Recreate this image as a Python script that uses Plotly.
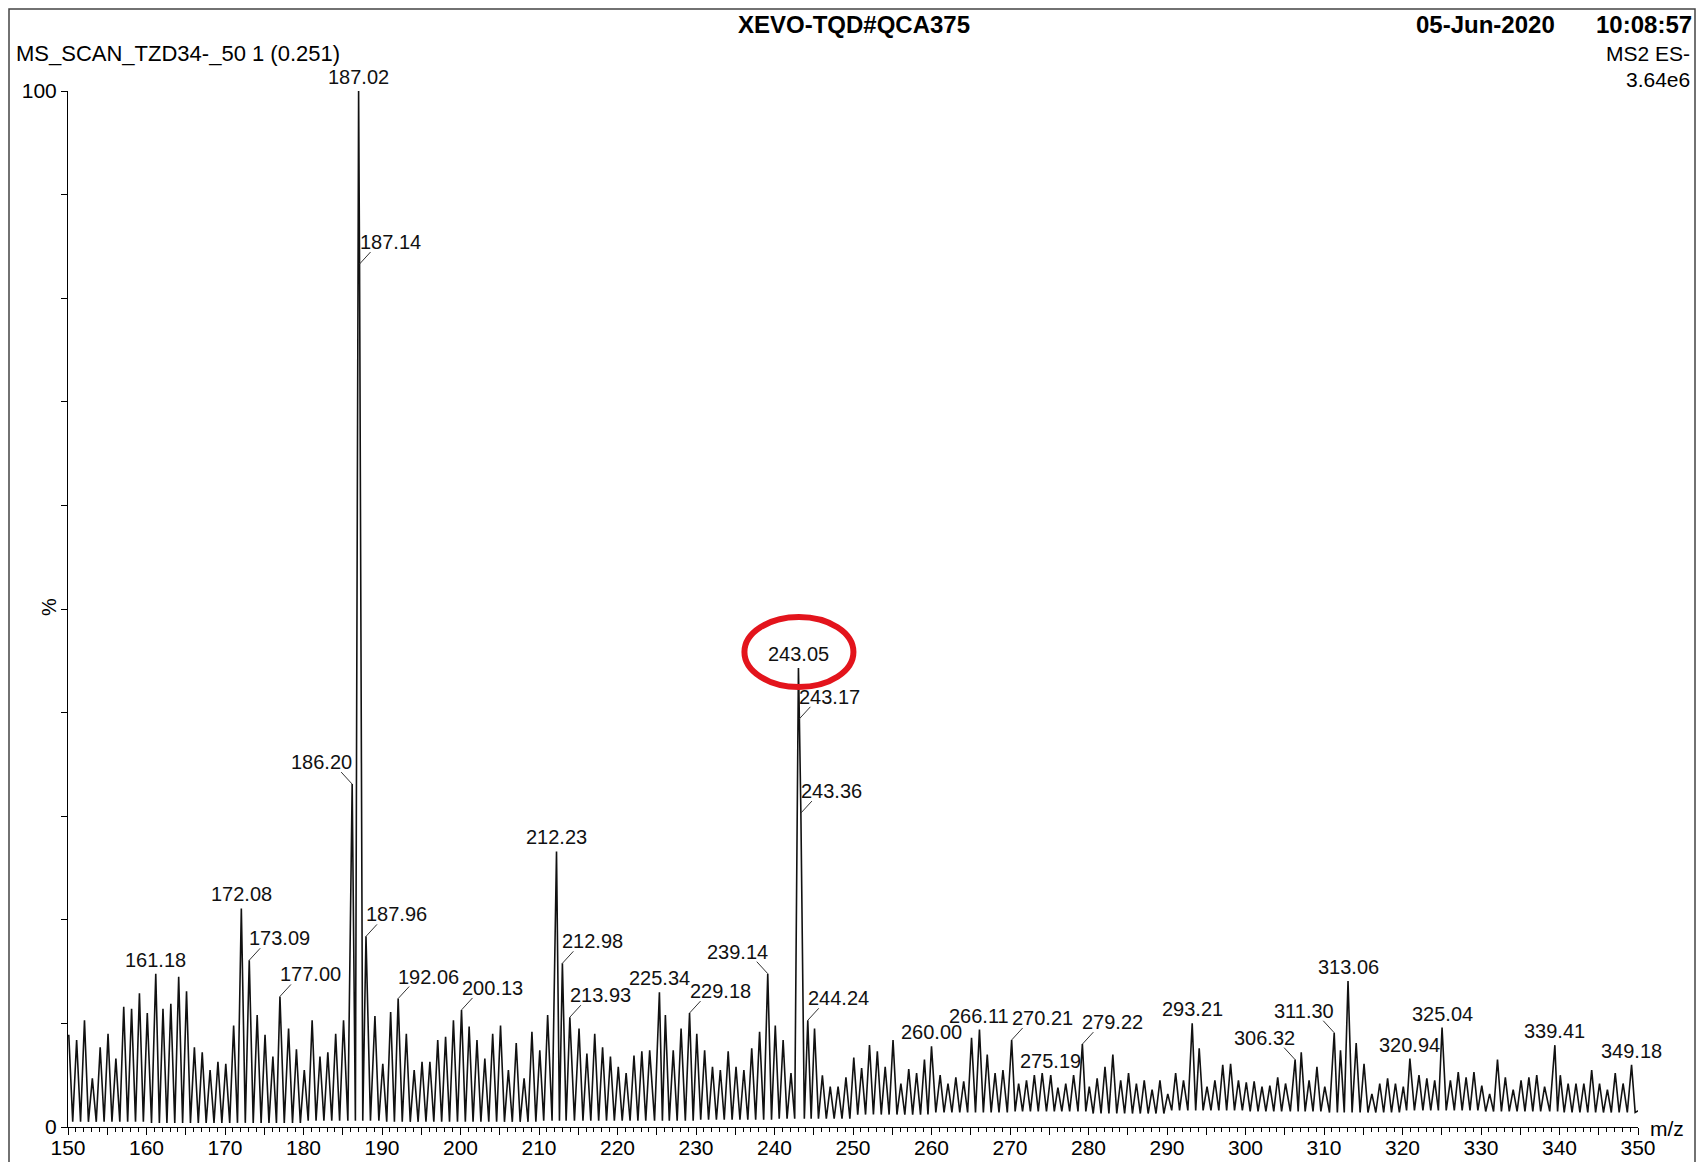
import plotly.graph_objects as go

# noise peaks, one per nominal mass (None = a labelled peak sits there)
n150 = [8.9, 8.4, 10.3, 4.7, 7.7, 9.0, 6.6, 11.6, 11.4, 12.9]
n160 = [11.0, None, 11.4, 11.9, 14.5, 13.1, 7.7, 7.2, 5.5, 6.3]
n170 = [6.1, 9.8, None, None, 10.8, 8.9, 6.8, None, 9.5, 7.5]
n180 = [5.5, 10.3, 6.8, 7.2, 9.0, 10.3, None, None, None, 10.7]
n190 = [6.1, 11.1, None, 9.0, 5.5, 6.3, 6.3, 8.4, 8.7, 10.3]
n200 = [None, 9.7, 8.4, 6.6, 9.0, 9.8, 5.5, 8.1, 4.7, 9.2]
n210 = [7.4, 10.8, None, None, None, 9.5, 7.1, 9.0, 7.7, 6.8]
n220 = [5.8, 5.2, 6.9, 7.3, 7.4, None, 10.8, 7.4, 9.5, None]
n230 = [9.0, 7.4, 5.8, 5.5, 7.3, 5.8, 5.5, 7.6, 9.2, None]
n240 = [9.8, 8.4, 5.2, None, None, 9.5, 5.0, 3.9, 3.9, 4.8]
n250 = [6.7, 5.7, 7.9, 7.3, 5.8, 8.4, 4.2, 5.6, 5.2, 6.5]
n260 = [None, 5.0, 4.2, 4.8, 4.4, 8.6, None, 7.0, 5.2, 5.5]
n270 = [None, 4.2, 4.5, 5.0, 5.2, None, 3.8, 4.2, 5.0, None]
n280 = [3.9, 4.7, 5.8, 7.0, 4.5, 5.2, 4.2, 4.5, 3.6, 4.5]
n290 = [3.2, 5.2, 4.5, None, 7.6, 3.9, 4.5, 6.0, 6.1, 4.5]
n300 = [4.3, 4.4, 3.9, 4.0, 4.8, 4.2, None, 7.2, 4.5, 5.8]
n310 = [3.9, None, 7.4, None, 8.1, 6.1, 3.2, 4.2, 4.7, 4.2]
n320 = [3.9, None, 5.0, 4.7, 4.5, None, 4.5, 5.3, 4.8, 5.3]
n330 = [4.0, 3.2, 6.5, 4.8, 3.6, 4.5, 4.8, 5.0, 3.9, None]
n340 = [5.0, 4.2, 4.2, 4.2, 5.5, 4.2, 3.6, 5.2, 4.2, None]
n350 = [1.6]
noise_blocks = [n150, n160, n170, n180, n190, n200, n210, n220, n230, n240,
                n250, n260, n270, n280, n290, n300, n310, n320, n330, n340, n350]

# valley floor between peaks, per 10 Da block
valley = [0.5, 0.4, 0.4, 0.6, 0.5, 0.5, 0.6, 0.6, 0.7, 0.8,
          1.2, 1.4, 1.5, 1.3, 1.6, 1.5, 1.4, 1.6, 1.5, 1.4, 1.4]

# labelled peaks
label_mz = [161.18, 172.08, 173.09, 177.00, 186.20, 187.02, 187.14, 187.96,
            192.06, 200.13, 212.23, 212.98, 213.93, 225.34, 229.18, 239.14,
            243.05, 243.17, 243.36, 244.24, 260.00, 266.11, 270.21, 275.19,
            279.22, 293.21, 306.32, 311.30, 313.06, 320.94, 325.04, 339.41, 349.18]
label_int = [14.8, 21.1, 16.1, 12.6, 33.1, 100, 83.3, 18.4,
             12.4, 11.3, 26.6, 15.8, 10.6, 13.0, 11.0, 14.8,
             44.3, 39.4, 30.3, 10.3, 7.8, 9.4, 8.4, 5.0,
             8.0, 10.0, 6.5, 9.1, 14.1, 6.6, 9.6, 7.9, 6.0]
label_side = ['up', 'up', 'right', 'right', 'left', 'up', 'right', 'right',
              'right', 'right', 'up', 'right', 'right', 'up', 'right', 'left',
              'up', 'right', 'right', 'right', 'up', 'up', 'right', 'up',
              'right', 'up', 'left', 'left', 'up', 'up', 'up', 'up', 'up']

x_tick_vals = [150, 155, 160, 165, 170, 175, 180, 185, 190, 195, 200, 205, 210, 215,
               220, 225, 230, 235, 240, 245, 250, 255, 260, 265, 270, 275, 280, 285,
               290, 295, 300, 305, 310, 315, 320, 325, 330, 335, 340, 345, 350]
y_tick_vals = [0, 10, 20, 30, 40, 50, 60, 70, 80, 90, 100]

# build the profile line
apex = []
for b, block in enumerate(noise_blocks):
    for i, h in enumerate(block):
        if h is not None:
            apex.append((150 + b * 10 + i + 0.1, h))
apex += list(zip(label_mz, label_int))
apex.sort()

xs, ys = [], []
for k, (mx, h) in enumerate(apex):
    xs.append(mx)
    ys.append(h)
    if k + 1 < len(apex):
        nx = apex[k + 1][0]
        if nx - mx > 0.4:
            mid = (mx + nx) / 2
            xs.append(mid)
            ys.append(valley[int((mid - 150) // 10)])

FONT = "Liberation Sans, Arial, sans-serif"
# the page body has an 8px margin, so the figure is 8px smaller and
# page positions are shifted by 8px into figure positions
OFF = 8
W, H = 1699, 1154
L, R, T, B = 60, 69, 83, 35


def px_x(p):
    return (p - OFF - L) / (W - L - R)


def px_y(p):
    return (H - B - (p - OFF)) / (H - T - B)


fig = go.Figure()
fig.add_trace(go.Scatter(x=xs, y=ys, mode='lines',
                         line=dict(color='#111111', width=1.6), hoverinfo='skip'))

shapes = []
annots = []
for mz, h, side in zip(label_mz, label_int, label_side):
    txt = '%.2f' % mz
    if side == 'up':
        annots.append(dict(x=mz, y=h, text=txt, showarrow=False, xanchor='center',
                           yanchor='bottom', yshift=1))
    else:
        d = 1 if side == 'right' else -1
        shapes.append(dict(type='line', xref='x', yref='y',
                           xsizemode='pixel', xanchor=mz, x0=0, x1=11 * d,
                           ysizemode='pixel', yanchor=h, y0=0, y1=12,
                           line=dict(color='#333333', width=1)))
        annots.append(dict(x=mz, y=h, text=txt, showarrow=False,
                           xanchor='left' if d == 1 else 'right',
                           xshift=-2 * d, yanchor='bottom', yshift=9))

# red highlight around the 243.05 peak
hl = label_mz.index(243.05)
shapes.append(dict(type='circle', xref='x', yref='y',
                   xsizemode='pixel', xanchor=label_mz[hl], x0=-54, x1=55,
                   ysizemode='pixel', yanchor=label_int[hl], y0=-19, y1=51,
                   line=dict(color='#e3141c', width=6)))

# outer frame
shapes.append(dict(type='rect', xref='paper', yref='paper',
                   x0=px_x(OFF + 1), x1=px_x(1695), y0=px_y(1200), y1=px_y(OFF + 1),
                   line=dict(color='#444444', width=1.5)))

for a in annots:
    a['font'] = dict(family=FONT, size=20, color='#111111')

hdr = [
    dict(x=px_x(854), y=px_y(24), text='<b>XEVO-TQD#QCA375</b>', xanchor='center', size=24),
    dict(x=px_x(1557), y=px_y(24), text='<b>05-Jun-2020</b>', xanchor='right', size=24),
    dict(x=px_x(1694), y=px_y(24), text='<b>10:08:57</b>', xanchor='right', size=24),
    dict(x=px_x(14), y=px_y(54), text='MS_SCAN_TZD34-_50 1 (0.251)', xanchor='left', size=22),
    dict(x=px_x(1692), y=px_y(54), text='MS2 ES-', xanchor='right', size=21),
    dict(x=px_x(1692), y=px_y(80), text='3.64e6', xanchor='right', size=21),
    dict(x=px_x(1648), y=px_y(1128), text='m/z', xanchor='left', size=21),
]
for h in hdr:
    annots.append(dict(xref='paper', yref='paper', x=h['x'], y=h['y'], text=h['text'],
                       xanchor=h['xanchor'], yanchor='middle', showarrow=False,
                       font=dict(family=FONT, size=h['size'], color='#000000')))
annots.append(dict(xref='paper', yref='paper', x=px_x(49), y=px_y(607), text='%',
                   textangle=-90, showarrow=False, xanchor='center', yanchor='middle',
                   font=dict(family=FONT, size=20, color='#000000')))

fig.update_layout(
    width=W, height=H,
    margin=dict(l=L, r=R, t=T, b=B),
    paper_bgcolor='white', plot_bgcolor='white',
    showlegend=False,
    shapes=shapes, annotations=annots,
    xaxis=dict(range=[150, 350], showgrid=False, zeroline=False, automargin=False,
               showline=True, linecolor='#000000', linewidth=1,
               tickmode='array', tickvals=x_tick_vals,
               ticktext=[str(v) if v % 10 == 0 else '' for v in x_tick_vals],
               ticks='outside', ticklen=7, tickcolor='#000000',
               ticklabelstandoff=-5,
               minor=dict(dtick=1, ticklen=4, ticks='outside', tickcolor='#000000'),
               tickfont=dict(family=FONT, size=21, color='#000000')),
    yaxis=dict(range=[0, 100], showgrid=False, zeroline=False, automargin=False,
               showline=True, linecolor='#000000', linewidth=1,
               tickmode='array', tickvals=y_tick_vals,
               ticktext=['0', '', '', '', '', '', '', '', '', '', '100'],
               ticks='outside', ticklen=6, tickcolor='#000000',
               tickfont=dict(family=FONT, size=21, color='#000000')),
)

fig.write_html("out.html")
